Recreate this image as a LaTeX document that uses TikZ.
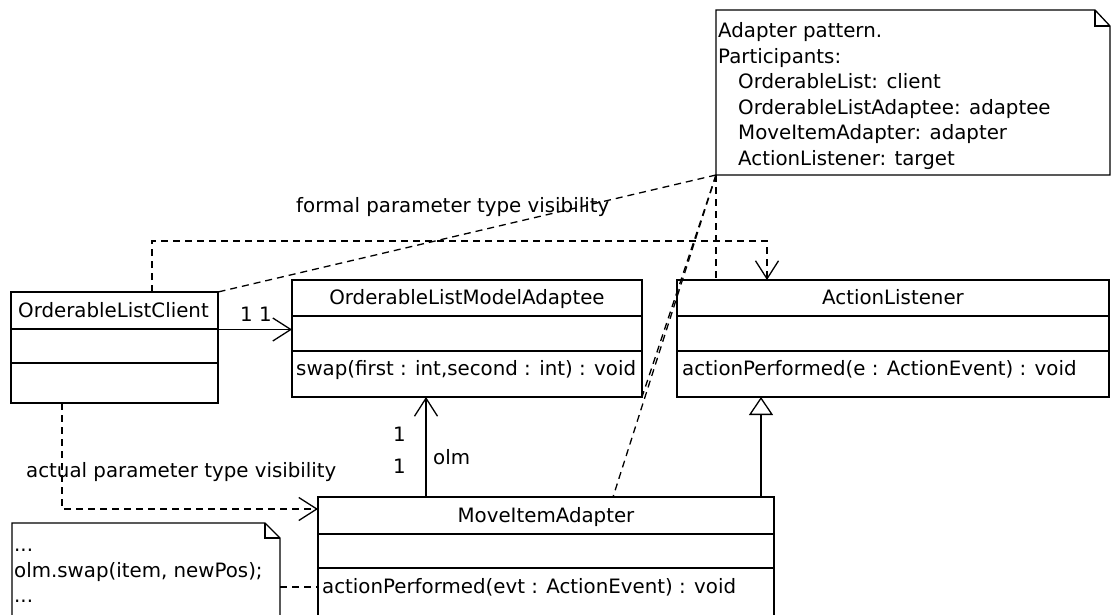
\documentclass[tikz,border=0pt]{standalone}
\usepackage{fontspec}
\setmainfont{DejaVu Sans}
\usetikzlibrary{arrows.meta,calc}
\begin{document}
\begin{tikzpicture}[x=1pt,y=-1pt,
  every node/.style={font=\fontsize{19.8}{25.6}\selectfont},
  cls/.style={draw,line width=1.3pt,anchor=north west,inner sep=0,outer sep=0},
  notebox/.style={anchor=north west,inner sep=0,outer sep=0},
  txt/.style={anchor=base west,inner sep=0},
  ctxt/.style={anchor=base,inner sep=0},
  solidline/.style={line width=1.3pt},
  depline/.style={line width=1.3pt,dash pattern=on 7pt off 5pt},
  barb/.style={-{Straight Barb[length=18pt,width=23pt,line width=1.3pt]}},
  gen/.style={-{Triangle[open,length=18pt,width=24pt,line width=1.3pt,fill=white]}}
]
\useasboundingbox (0,0) rectangle (1111,615);

% ---------- class boxes ----------
\node[cls,minimum width=207pt,minimum height=111pt] (olc) at (11,292) {};
\draw[solidline] ($(olc.north west)+(0,37)$) -- ($(olc.north east)+(0,37)$);
\draw[solidline] ($(olc.north west)+(0,71)$) -- ($(olc.north east)+(0,71)$);
\node[txt] (olct) at (18,317) {OrderableListClient};

\node[cls,minimum width=350pt,minimum height=117pt] (olma) at (292,280) {};
\draw[solidline] ($(olma.north west)+(0,36)$) -- ($(olma.north east)+(0,36)$);
\draw[solidline] ($(olma.north west)+(0,71)$) -- ($(olma.north east)+(0,71)$);
\node[ctxt] (olmat) at (467,304) {OrderableListModelAdaptee};
\node[txt] (olmao) at (296,375) {swap(first : int,second : int) : void};

\node[cls,minimum width=432pt,minimum height=117pt] (al) at (677,280) {};
\draw[solidline] ($(al.north west)+(0,36)$) -- ($(al.north east)+(0,36)$);
\draw[solidline] ($(al.north west)+(0,71)$) -- ($(al.north east)+(0,71)$);
\node[ctxt] (alt) at (893,304) {ActionListener};
\node[txt] (alo) at (682,375) {actionPerformed(e : ActionEvent) : void};

\node[cls,minimum width=456pt,minimum height=122pt] (mia) at (318,497) {};
\draw[solidline] ($(mia.north west)+(0,37)$) -- ($(mia.north east)+(0,37)$);
\draw[solidline] ($(mia.north west)+(0,71)$) -- ($(mia.north east)+(0,71)$);
\node[ctxt] (miat) at (546,522) {MoveItemAdapter};
\node[txt] (miao) at (322,593) {actionPerformed(evt : ActionEvent) : void};

% ---------- notes ----------
\node[notebox,minimum width=394pt,minimum height=165pt] (note) at (716,10) {};
\draw[solidline] (note.north west) -- ($(note.north east)+(-15,0)$) -- ($(note.north east)+(0,16)$)
  -- (note.south east) -- (note.south west) -- cycle;
\draw[solidline] ($(note.north east)+(-15,0)$) -- ($(note.north east)+(-15,16)$) -- ($(note.north east)+(0,16)$);
\node[txt] (n1) at (718,37.5) {Adapter pattern.};
\node[txt] (n2) at (718,63.1) {Participants:};
\node[txt] (n3) at (738,88.7) {OrderableList: client};
\node[txt] (n4) at (738,114.3) {OrderableListAdaptee: adaptee};
\node[txt] (n5) at (738,139.9) {MoveItemAdapter: adapter};
\node[txt] (n6) at (738,165.5) {ActionListener: target};

\node[notebox,minimum width=268pt,minimum height=100pt] (code) at (12,523) {};
\draw[solidline] ($(code.north west)+(0,100)$) -- (code.north west) -- ($(code.north east)+(-15,0)$)
  -- ($(code.north east)+(0,15)$) -- ($(code.north east)+(0,100)$);
\draw[solidline] ($(code.north east)+(-15,0)$) -- ($(code.north east)+(-15,15)$) -- ($(code.north east)+(0,15)$);
\node[txt] (c1) at (14,551.5) {...};
\node[txt] (c2) at (14,577) {olm.swap(item, newPos);};
\node[txt] (c3) at (14,602.5) {...};

% ---------- helper coordinates ----------
\coordinate (asA) at ($(olc.north east)+(0,37.5)$);
\coordinate (asB) at (asA -| olma.west);
\coordinate (amA) at ($(mia.north west)+(108,0)$);
\coordinate (amB) at (amA |- olma.south);
\coordinate (gA) at ($(mia.north east)+(-13,0)$);
\coordinate (gB) at (gA |- al.south);
\coordinate (f0) at ($(olc.north west)+(141,0)$);
\coordinate (f1) at ($(olc.north west)+(141,-51)$);
\coordinate (f2) at (767,241);
\coordinate (f3) at (f2 |- al.north);
\coordinate (a0) at ($(olc.south west)+(51,0)$);
\coordinate (a1) at ($(olc.south west)+(51,106)$);
\coordinate (a2) at (a1 -| mia.west);
\coordinate (nMia) at ($(mia.north west)+(295,0)$);
\coordinate (nAl) at (note.south west |- al.north);
\coordinate (cA) at ($(code.north east)+(0,64)$);
\coordinate (cB) at (cA -| mia.west);

% ---------- connectors ----------
\draw[solidline,barb] (asA) -- (asB);
\node[txt] (m11) at (240,321.5) {1 1};

\draw[solidline,barb] (amA) -- (amB);
\node[txt] (m1a) at (393,441) {1};
\node[txt] (m1b) at (393,473) {1};
\node[txt] (olml) at (433,464) {olm};

\draw[solidline,gen] (gA) -- (gB);

\draw[depline,barb] (f0) -- (f1) -- (f2) -- (f3);
\node[txt] (flab) at (296,212.5) {formal parameter type visibility};

\draw[depline,barb] (a0) -- (a1) -- (a2);
\node[txt] (alab) at (26,477) {actual parameter type visibility};

\draw[depline] (note.south west) -- (olc.north east);
\draw[depline] (note.south west) -- (olma.south east);
\draw[depline] (note.south west) -- (nMia);
\draw[depline] (note.south west) -- (nAl);
\draw[depline] (cA) -- (cB);

\end{tikzpicture}
\end{document}
